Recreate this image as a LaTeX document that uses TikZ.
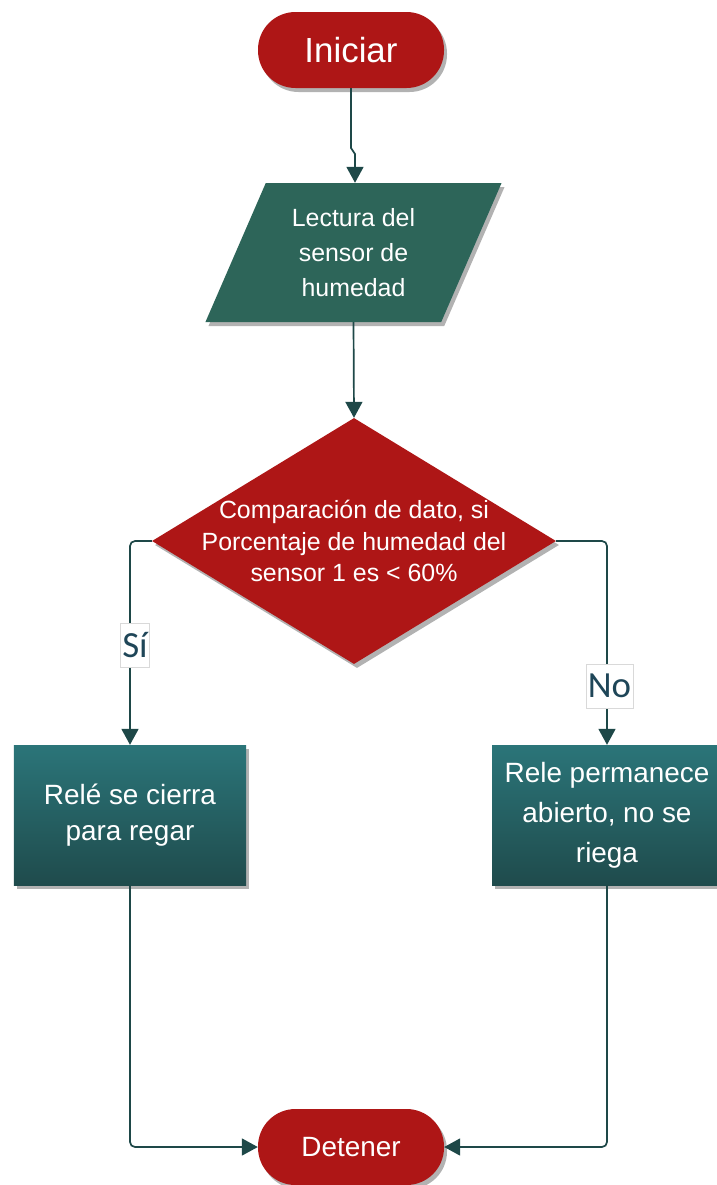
\documentclass[tikz,border=0pt]{standalone}
\usepackage{fontspec}
\setmainfont{Liberation Sans}
\newfontfamily\labfont{Carlito}
\usetikzlibrary{shapes.geometric,shadows,arrows.meta}
\definecolor{fred}{HTML}{AE1616}
\definecolor{fgreen}{HTML}{2D6559}
\definecolor{btop}{HTML}{2B7579}
\definecolor{bbot}{HTML}{1F4B4C}
\definecolor{conncol}{HTML}{1E4848}
\definecolor{labcol}{HTML}{1F4658}
\tikzset{
  shad/.style={drop shadow={shadow xshift=3bp,shadow yshift=-4bp,opacity=0.3,fill=black}},
  term/.style={shad,fill=fred,rectangle,rounded corners=37.5bp,minimum width=186bp,minimum height=76bp,inner sep=0,text=white},
  para/.style={shad,fill=fgreen,trapezium,trapezium left angle=64.3,trapezium right angle=115.7,trapezium stretches=true,minimum width=297bp,minimum height=139bp,inner sep=0,text=white,align=center},
  dia/.style={shad,fill=fred,diamond,minimum width=404bp,minimum height=246bp,inner sep=0},
  proc/.style={shad,top color=btop,bottom color=bbot,rectangle,minimum width=232bp,minimum height=140bp,inner sep=0,text=white,align=center},
  conn/.style={draw=conncol,line width=1.7bp,rounded corners=5bp,-{Triangle[width=17bp,length=16bp]}},
  lab/.style={fill=white,draw=black!15,line width=0.6bp,inner xsep=2bp,inner ysep=0bp,minimum height=44bp,text=labcol,font=\labfont\fontsize{37}{40}\selectfont}
}
\begin{document}
\begin{tikzpicture}[x=1bp,y=-1bp]
\useasboundingbox (0,0) rectangle (717,1185);
\fill[white] (0,0) rectangle (717,1185);

\node[term,font=\fontsize{35}{40}\selectfont] (ini) at (351,50) {Iniciar};
\node[para,font=\fontsize{25}{35}\selectfont] (lec) at (353.5,252.5) {Lectura del\\sensor de\\humedad};
\node[dia] (dec) at (354,541) {};
\node[text=white,align=center,font=\fontsize{25}{32}\selectfont] (dectxt) at (354,541) {Comparación de dato, si\\Porcentaje de humedad del\\sensor 1 es < 60\%};
\node[proc,font=\fontsize{28}{36}\selectfont] (rel) at (130,815) {Relé se cierra\\para regar};
\node[proc,minimum width=230bp,font=\fontsize{28}{40}\selectfont] (rab) at (607,815) {Rele permanece\\abierto, no se\\riega};
\node[term,font=\fontsize{28}{34}\selectfont] (det) at (351,1147) {Detener};

\coordinate (j1) at (351,148);
\coordinate (j2) at (355,154);
\draw[conn,rounded corners=0] (ini.south) -- (j1) -- (j2) -- (j2 |- lec.north);
\draw[conn] (lec.south) -- (dec.north);
\draw[conn] (dec.west) -| (rel.north);
\draw[conn] (dec.east) -| (rab.north);
\draw[conn] (rel.south) |- (det.west);
\draw[conn] (rab.south) |- (det.east);

\node[lab] (si) at (135,645) {Sí};
\node[lab] (no) at (609.5,686) {No};
\end{tikzpicture}
\end{document}
